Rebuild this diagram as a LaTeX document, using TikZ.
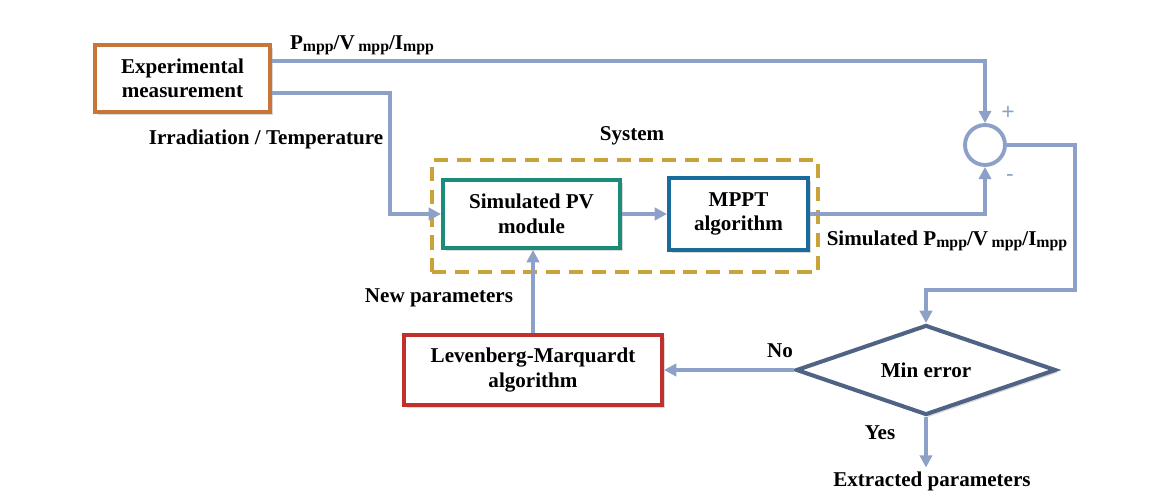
\documentclass[tikz,border=0pt]{standalone}
\usepackage{fontspec}
\setmainfont{Liberation Serif}
\newfontfamily\signfont{Liberation Sans}
\usetikzlibrary{shapes.geometric,arrows.meta,shadows,calc}
\definecolor{flowc}{RGB}{141,161,200}
\definecolor{expc}{RGB}{200,116,58}
\definecolor{pvc}{RGB}{26,140,120}
\definecolor{mpptc}{RGB}{27,106,156}
\definecolor{lmc}{RGB}{192,48,44}
\definecolor{sysc}{RGB}{201,162,58}
\definecolor{diac}{RGB}{79,99,132}
\newcommand\mppsub{\raisebox{-1.2pt}{\fontsize{9}{9}\selectfont mpp}}
\tikzset{
  box/.style={draw, line width=2.3pt, fill=white, align=center, inner sep=0pt,
    font=\fontsize{12}{14}\selectfont\bfseries,
    drop shadow={opacity=0.3, shadow xshift=1.5pt, shadow yshift=-1.5pt}},
  flow/.style={draw=flowc, line width=2.2pt},
  arr/.style={flow, -{Triangle[length=7pt,width=7pt]}},
  lbl/.style={font=\fontsize{12}{14}\selectfont\bfseries, inner sep=0pt},
  sign/.style={font=\signfont\fontsize{13}{13}\selectfont, text=flowc, inner sep=0pt}
}
\begin{document}
\begin{tikzpicture}[x=0.02cm,y=-0.02cm]
\useasboundingbox (0,0) rectangle (1164,493);
% system frame
\node[draw=sysc, line width=2.3pt, dash pattern=on 8pt off 5pt, minimum width=7.72cm, minimum height=2.24cm, inner sep=0pt] (sys) at (625,216) {};
\node[lbl] (syslbl) at (632,136) {System};
% boxes
\node[box, draw=expc, minimum width=3.5cm, minimum height=1.34cm] (exp) at (182.5,78.5) {Experimental\\measurement};
\node[box, draw=pvc, minimum width=3.54cm, minimum height=1.36cm] (pv) at (531.5,214) {Simulated PV\\module};
\node[box, draw=mpptc, minimum width=2.78cm, minimum height=1.44cm] (mppt) at (738.5,214) {MPPT\\algorithm};
\node[box, draw=lmc, minimum width=5.16cm, minimum height=1.4cm] (lm) at (533,370) {Levenberg-Marquardt\\algorithm};
\node[box, draw=diac, shape=diamond, aspect=2.9, minimum width=5.2cm, minimum height=1.8cm] (dia) at (926,370) {Min error};
\node[circle, draw=flowc, line width=2.2pt, minimum size=0.8cm, inner sep=0pt, fill=white] (sum) at (985,145) {};
% turning points
\coordinate (e1) at ($(exp.north east)!0.25!(exp.south east)$);
\coordinate (e2) at ($(exp.north east)!0.7!(exp.south east)$);
\coordinate (k1) at (390,0);
\coordinate (k3) at (1075,290);
% connectors
\draw[arr] (e1) -| (sum.north);
\draw[arr] (e2) -- (e2 -| k1) |- (pv.west);
\draw[arr] (pv.east) -- (mppt.west);
\draw[arr] (mppt.east) -| (sum.south);
\draw[arr] (sum.east) -| (k3) -| (dia.north);
\draw[arr] (dia.west) -- (lm.east);
\draw[arr] (lm.north) -- (lm.north |- pv.south);
\node[lbl] (ext) at (932,481) {Extracted parameters};
\draw[arr, shorten >=2pt] (dia.south) -- (dia.south |- ext.north);
% labels
\node[lbl] (l1) at (362,45) {P\mppsub/V\,\mppsub/I\mppsub};
\node[lbl] (l2) at (266,139) {Irradiation / Temperature};
\node[lbl] (l3) at (947,241) {Simulated P\mppsub/V\,\mppsub/I\mppsub};
\node[lbl] (l4) at (439,298) {New parameters};
\node[lbl] (l5) at (780,351) {No};
\node[lbl] (l6) at (880,433) {Yes};
\node[sign] (plus) at (1008,113) {+};
\node[sign] (minus) at (1010,178) {-};
\end{tikzpicture}
\end{document}
